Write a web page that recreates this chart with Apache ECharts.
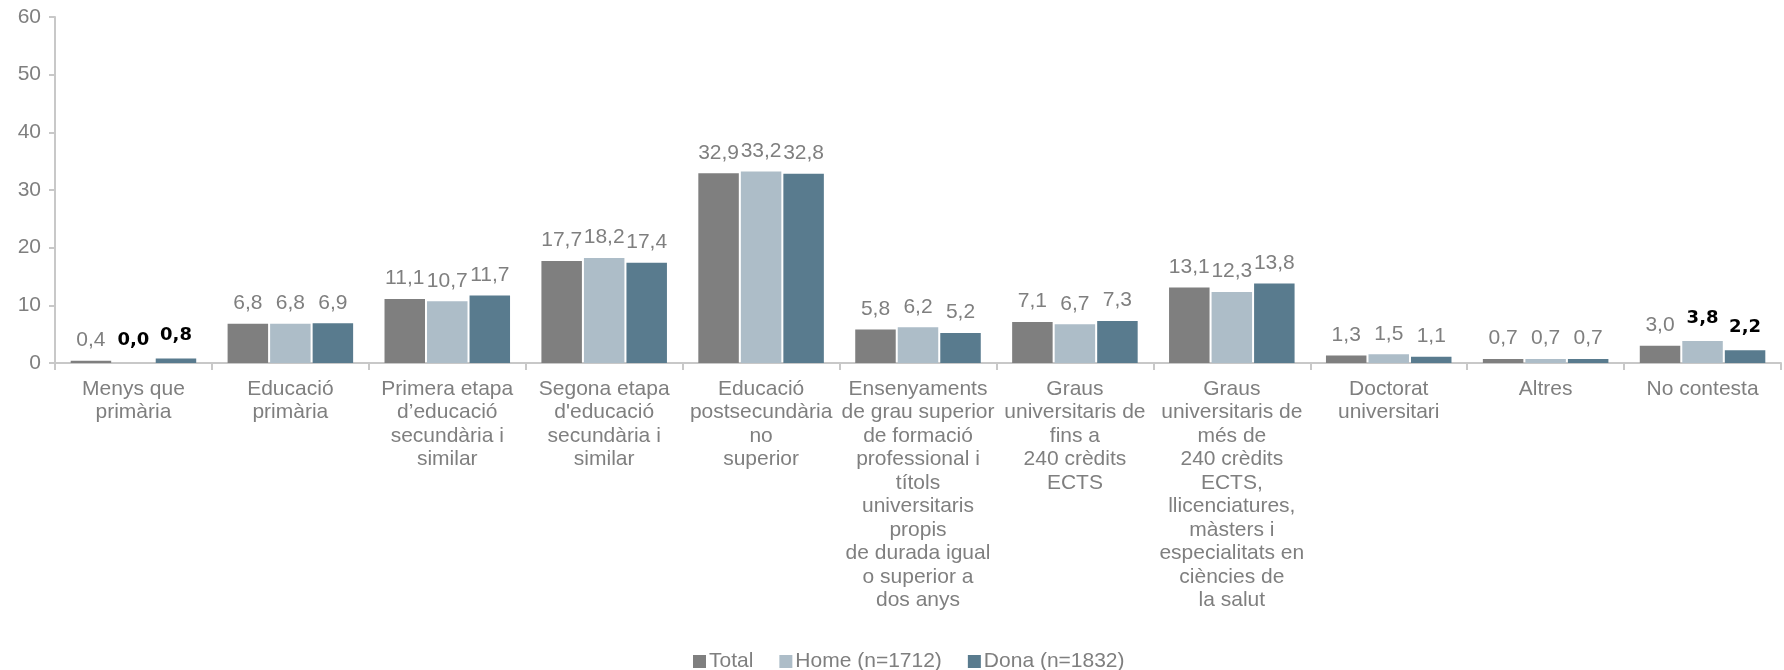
<!DOCTYPE html>
<html>
<head>
<meta charset="utf-8">
<script src="https://cdn.jsdelivr.net/npm/echarts@6/dist/echarts.min.js"></script>
<style>
  html, body { margin: 0; padding: 0; background: #ffffff; }
  #chart { width: 1784px; height: 670px; }
</style>
</head>
<body>
<div id="chart"></div>
<script>
const categories = [
  "Menys que\nprimària",
  "Educació\nprimària",
  "Primera etapa\nd’educació\nsecundària i\nsimilar",
  "Segona etapa\nd'educació\nsecundària i\nsimilar",
  "Educació\npostsecundària\nno\nsuperior",
  "Ensenyaments\nde grau superior\nde formació\nprofessional i\ntítols\nuniversitaris\npropis\nde durada igual\no superior a\ndos anys",
  "Graus\nuniversitaris de\nfins a\n240 crèdits\nECTS",
  "Graus\nuniversitaris de\nmés de\n240 crèdits\nECTS,\nllicenciatures,\nmàsters i\nespecialitats en\nciències de\nla salut",
  "Doctorat\nuniversitari",
  "Altres",
  "No contesta"
];
const seriesNames = ["Total", "Home (n=1712)", "Dona (n=1832)"];
const totalValues = [0.4, 6.8, 11.1, 17.7, 32.9, 5.8, 7.1, 13.1, 1.3, 0.7, 3.0];
const homeValues  = [0.0, 6.8, 10.7, 18.2, 33.2, 6.2, 6.7, 12.3, 1.5, 0.7, 3.8];
const donaValues  = [0.8, 6.9, 11.7, 17.4, 32.8, 5.2, 7.3, 13.8, 1.1, 0.7, 2.2];
// indices of categories whose labels are shown in bold black, per series
const boldTotal = [];
const boldHome = [0, 10];
const boldDona = [0, 10];
const yTicks = { min: 0, max: 60, interval: 10 };

const colors = ["#7f7f7f", "#adbdc8", "#597b8e"];
const grayText = "#7f7f7f";
const fontFam = "'Liberation Sans', Arial, sans-serif";

function fmt(v) { return v.toFixed(1).replace('.', ','); }

function buildData(values, boldIdx) {
  return values.map((v, i) => {
    if (boldIdx.indexOf(i) >= 0) {
      return {
        value: v,
        label: {
          color: "#000000",
          fontWeight: "bold",
          fontFamily: "'DejaVu Sans', sans-serif",
          fontSize: 18,
          distance: 14
        }
      };
    }
    return v;
  });
}

function makeSeries(name, values, boldIdx, color) {
  return {
    name: name,
    type: "bar",
    data: buildData(values, boldIdx),
    barGap: "5%",
    barCategoryGap: "20%",
    itemStyle: { color: color },
    label: {
      show: true,
      position: "top",
      distance: 10,
      color: grayText,
      fontSize: 21,
      fontFamily: fontFam,
      formatter: p => fmt(p.value)
    },
    emphasis: { disabled: true }
  };
}

const chart = echarts.init(document.getElementById("chart"), null, { renderer: "canvas" });
chart.setOption({
  animation: false,
  backgroundColor: "#ffffff",
  color: colors,
  grid: { left: 55, right: 3, top: 17, bottom: 307, containLabel: false },
  legend: {
    left: 688,
    top: 646,
    itemWidth: 13,
    itemHeight: 13,
    itemGap: 26,
    icon: "rect",
    textStyle: { color: grayText, fontSize: 21, fontFamily: fontFam, padding: [0, 0, 0, -2] },
    data: seriesNames
  },
  xAxis: {
    type: "category",
    data: categories,
    axisLine: { show: true, lineStyle: { color: "#c8c8c8", width: 2 } },
    axisTick: { show: true, interval: 0, length: 7, lineStyle: { color: "#c8c8c8", width: 2 } },
    axisLabel: {
      interval: 0,
      margin: 14,
      color: grayText,
      fontSize: 21,
      lineHeight: 23.5,
      fontFamily: fontFam,
      align: "center"
    }
  },
  yAxis: {
    type: "value",
    min: yTicks.min,
    max: yTicks.max,
    interval: yTicks.interval,
    splitLine: { show: false },
    axisLine: { show: true, lineStyle: { color: "#c8c8c8", width: 2 } },
    axisTick: { show: true, length: 6, lineStyle: { color: "#c8c8c8", width: 2 } },
    axisLabel: { color: grayText, fontSize: 21, fontFamily: fontFam, margin: 14 }
  },
  series: [
    makeSeries(seriesNames[0], totalValues, boldTotal, colors[0]),
    makeSeries(seriesNames[1], homeValues, boldHome, colors[1]),
    makeSeries(seriesNames[2], donaValues, boldDona, colors[2])
  ]
});
</script>
</body>
</html>
